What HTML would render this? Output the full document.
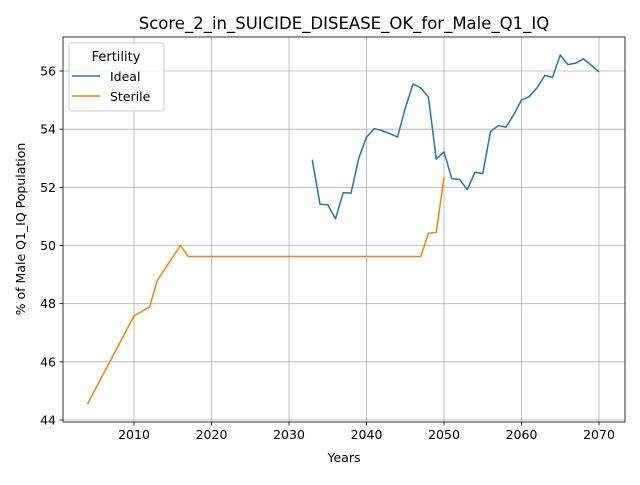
<!DOCTYPE html>
<html><head><meta charset="utf-8"><style>body{margin:0;background:#fff}svg{font-family:"DejaVu Sans","Liberation Sans",sans-serif}</style></head>
<body>
<svg id="chart" width="640" height="480" xmlns="http://www.w3.org/2000/svg">
<rect width="640" height="480" fill="#fff"/>
<text x="344" y="29" font-size="16.5" text-anchor="middle">Score_2_in_SUICIDE_DISEASE_OK_for_Male_Q1_IQ</text>
<g id="grid"></g><g id="series"></g>
<rect x="63" y="37" width="562" height="385" fill="none" stroke="#000" stroke-width="0.8"/>
<text x="344" y="462" font-size="12.5" text-anchor="middle">Years</text>
<text transform="translate(25,229) rotate(-90)" font-size="12.5" text-anchor="middle">% of Male Q1_IQ Population</text>
<g>
<rect x="69" y="43" width="95" height="68" rx="3" fill="#fff" fill-opacity="0.8" stroke="#ccc"/>
<text x="116" y="61" font-size="13" text-anchor="middle">Fertility</text>
<line x1="72" y1="76" x2="100" y2="76" stroke="#1f77b4" stroke-width="1.5"/>
<text x="110" y="81" font-size="12.5">Ideal</text>
<line x1="72" y1="96" x2="100" y2="96" stroke="#ff7f0e" stroke-width="1.5"/>
<text x="110" y="101" font-size="12.5">Sterile</text>
</g>
</svg>
<script>
const xTicks=[2010,2020,2030,2040,2050,2060,2070];
const yTicks=[44,46,48,50,52,54,56];
const idealYears=[2033,2034,2035,2036,2037,2038,2039,2040,2041,2042,2043,2044,2045,2046,2047,2048,2049,2050,2051,2052,2053,2054,2055,2056,2057,2058,2059,2060,2061,2062,2063,2064,2065,2066,2067,2068,2069,2070];
const idealValues=[52.95,51.42,51.4,50.92,51.82,51.8,53.0,53.72,54.02,53.95,53.85,53.73,54.72,55.55,55.42,55.1,52.97,53.22,52.3,52.27,51.92,52.52,52.47,53.92,54.12,54.07,54.5,55.0,55.12,55.42,55.85,55.78,56.55,56.22,56.27,56.42,56.2,55.97];
const sterileYears=[2004,2010,2012,2013,2016,2017,2047,2048,2049,2050];
const sterileValues=[44.55,47.58,47.88,48.8,50.0,49.62,49.62,50.42,50.45,52.35];
const NS='http://www.w3.org/2000/svg';
const X=v=>134+(v-2010)*(599-134)/60;
const Y=v=>420-(v-44)*(420-71)/12;
const grid=document.getElementById('grid'),ser=document.getElementById('series');
function mk(t,a,p){const e=document.createElementNS(NS,t);for(const k in a)e.setAttribute(k,a[k]);p.appendChild(e);return e;}
xTicks.forEach(t=>{const x=X(t);
const g=mk('line',{x1:x,x2:x,y1:37,y2:422,stroke:'#b0b0b0','stroke-width':0.8},grid);


mk('line',{x1:x,x2:x,y1:422,y2:425.5,stroke:'#000','stroke-width':0.8},grid);
const l=mk('text',{x:x,y:439,'font-size':12.5,'text-anchor':'middle'},grid);l.textContent=t;

});
yTicks.forEach(t=>{const y=Y(t);
const g=mk('line',{x1:63,x2:625,y1:y,y2:y,stroke:'#b0b0b0','stroke-width':0.8},grid);


mk('line',{x1:59.5,x2:63,y1:y,y2:y,stroke:'#000','stroke-width':0.8},grid);
const l=mk('text',{x:56,y:y+4.5,'font-size':12.5,'text-anchor':'end'},grid);l.textContent=t;

});
function line(xs,ys,c,name){const p=mk('polyline',{points:xs.map((x,i)=>X(x)+','+Y(ys[i])).join(' '),fill:'none',stroke:c,'stroke-width':1.5,'stroke-linejoin':'round'},ser);

}
line(idealYears,idealValues,'#1f77b4','ideal-line');
line(sterileYears,sterileValues,'#ff7f0e','sterile-line');
</script>
</body></html>
